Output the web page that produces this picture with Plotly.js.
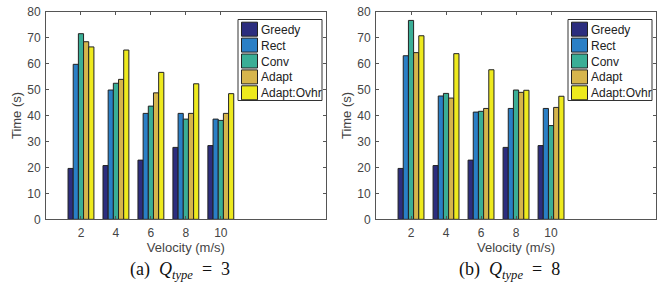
<!DOCTYPE html>
<html><head><meta charset="utf-8">
<script src="https://cdn.plot.ly/plotly-3.0.1.min.js"></script>
<style>html,body{margin:0;padding:0;background:#fff}#chart{width:662px;height:283px}</style>
</head><body><div id="chart"></div>
<script>
const velocity = [2, 4, 6, 8, 10];
const seriesNames = ['Greedy', 'Rect', 'Conv', 'Adapt', 'Adapt:Ovhr'];
const seriesColors = ['#2c2d7e', '#2a7fc6', '#3aae96', '#d6b54c', '#eeea1e'];
// Q_type = 3
const q3Greedy = [19.6, 20.7, 22.8, 27.7, 28.4];
const q3Rect   = [59.7, 49.8, 40.8, 40.8, 38.6];
const q3Conv   = [71.5, 52.4, 43.6, 38.6, 38.1];
const q3Adapt  = [68.4, 53.9, 48.7, 40.8, 40.8];
const q3Ovhr   = [66.4, 65.2, 56.6, 52.2, 48.4];
// Q_type = 8
const q8Greedy = [19.6, 20.7, 22.8, 27.7, 28.4];
const q8Rect   = [63.0, 47.5, 41.3, 42.7, 42.7];
const q8Conv   = [76.6, 48.5, 41.6, 49.8, 36.1];
const q8Adapt  = [64.2, 46.7, 42.7, 48.9, 43.1];
const q8Ovhr   = [70.7, 63.8, 57.6, 49.7, 47.4];
const xTicks = [2, 4, 6, 8, 10];
const yTicks = [0, 10, 20, 30, 40, 50, 60, 70, 80];
const captions = [
  '(a)&nbsp;&nbsp;<i>Q</i><sub><i>type</i></sub>&nbsp;&nbsp;=&nbsp;&nbsp;3',
  '(b)&nbsp;&nbsp;<i>Q</i><sub><i>type</i></sub>&nbsp;&nbsp;=&nbsp;&nbsp;8'
];

const q3 = [q3Greedy, q3Rect, q3Conv, q3Adapt, q3Ovhr];
const q8 = [q8Greedy, q8Rect, q8Conv, q8Adapt, q8Ovhr];

const W = 662, H = 283;
const traces = [];
q3.forEach((vals, i) => traces.push({
  type: 'bar', x: velocity, y: vals, name: seriesNames[i], xaxis: 'x', yaxis: 'y',
  marker: {color: seriesColors[i], line: {color: '#222', width: 1}}
}));
q8.forEach((vals, i) => traces.push({
  type: 'bar', x: velocity, y: vals, name: seriesNames[i], xaxis: 'x2', yaxis: 'y2',
  marker: {color: seriesColors[i], line: {color: '#222', width: 1}}
}));

const fam = 'Liberation Sans, Arial, sans-serif';
const tickFont = {family: fam, size: 12, color: '#444'};
const titleFont = {family: fam, size: 13, color: '#444'};
const axBase = {
  showgrid: false, zeroline: false, showline: true, mirror: 'ticks',
  linecolor: '#555', linewidth: 1, ticks: 'inside', ticklen: 3, tickcolor: '#555',
  tickfont: tickFont
};
const xax = (dom, anchor) => Object.assign({}, axBase, {
  domain: dom, anchor: anchor, range: [0, 16], tickmode: 'array', tickvals: xTicks,
  ticklabelstandoff: 2,
  title: {text: 'Velocity (m/s)', font: titleFont, standoff: 0}
});
const yax = (anchor) => Object.assign({}, axBase, {
  domain: [0.225, 0.959], anchor: anchor, range: [0, 80], tickmode: 'array', tickvals: yTicks,
  ticklabelstandoff: 2,
  title: {text: 'Time (s)', font: titleFont, standoff: 2}
});

// manual legend boxes (MATLAB-style), positioned in pixels relative to each panel
const shapes = [], annotations = [];
const px = v => v / W, py = v => 1 - v / H;
[0, 330].forEach(off => {
  shapes.push({type: 'rect', xref: 'paper', yref: 'paper',
    x0: px(238 + off), x1: px(322 + off), y0: py(19.5), y1: py(100.5),
    fillcolor: '#fff', line: {color: '#333', width: 1}, layer: 'above'});
  seriesNames.forEach((nm, i) => {
    const cy = 29.2 + i * 15.9;
    shapes.push({type: 'rect', xref: 'paper', yref: 'paper',
      x0: px(241.5 + off), x1: px(257.5 + off), y0: py(cy - 7), y1: py(cy + 7),
      fillcolor: seriesColors[i], line: {color: '#222', width: 1}, layer: 'above'});
    annotations.push({xref: 'paper', yref: 'paper', x: px(258.5 + off), y: py(cy + 0.5),
      xanchor: 'left', yanchor: 'middle', showarrow: false, text: nm,
      font: {family: fam, size: 12, color: '#222'}});
  });
});
const capFont = {family: 'Liberation Serif, Times New Roman, serif', size: 18, color: '#111'};
annotations.push({xref: 'paper', yref: 'paper', x: px(180), y: 0, xanchor: 'center', yanchor: 'bottom',
  yshift: -1, showarrow: false, font: capFont, text: captions[0]});
annotations.push({xref: 'paper', yref: 'paper', x: px(509), y: 0, xanchor: 'center', yanchor: 'bottom',
  yshift: -1, showarrow: false, font: capFont, text: captions[1]});

const layout = {
  width: W, height: H, margin: {l: 0, r: 0, t: 0, b: 0},
  paper_bgcolor: '#fff', plot_bgcolor: '#fff',
  barmode: 'group', bargap: 0.26, bargroupgap: 0,
  xaxis: xax([0.0695, 0.492], 'y'), yaxis: yax('x'),
  xaxis2: xax([0.568, 0.991], 'y2'), yaxis2: yax('x2'),
  showlegend: false, shapes: shapes, annotations: annotations
};
Plotly.newPlot('chart', traces, layout, {displayModeBar: false, staticPlot: true});
</script></body></html>
